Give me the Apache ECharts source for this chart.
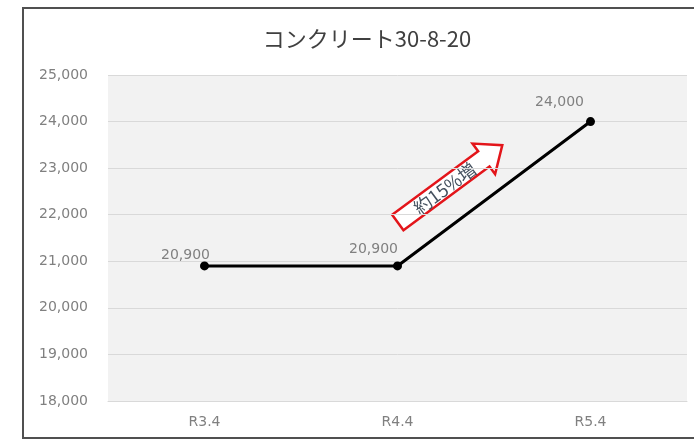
<!DOCTYPE html>
<html>
<head>
<meta charset="utf-8">
<script src="https://cdn.jsdelivr.net/npm/echarts@6/dist/echarts.min.js"></script>
<style>
html,body{margin:0;padding:0;background:#fff;}
#chart{width:694px;height:440px;}
</style>
</head>
<body>
<div id="chart"></div>
<script>
const titleText = 'コンクリート30-8-20';
const categories = ['R3.4', 'R4.4', 'R5.4'];
const values = [20900, 20900, 24000];
const yMin = 18000, yMax = 25000, yInterval = 1000;
const annotationText = '約15%増';

const labelOffsets = [[-19, 6], [-24, 0], [-31, -3]];
const fmt = v => v.toLocaleString('en-US');

const chart = echarts.init(document.getElementById('chart'), null, {renderer: 'canvas'});
const labelFont = {fontFamily: 'DejaVu Sans', fontSize: 14, color: '#808080'};

chart.setOption({
  animation: false,
  backgroundColor: '#ffffff',
  title: {
    text: titleText,
    left: 362, top: 23, textAlign: 'center',
    textStyle: {fontFamily: 'Noto Sans CJK JP', fontSize: 22, fontWeight: 'normal', color: '#404040'}
  },
  grid: {left: 108, right: 7, top: 75, bottom: 39, show: true, backgroundColor: '#f2f2f2', borderWidth: 0},
  xAxis: {
    type: 'category', data: categories, boundaryGap: true,
    axisLine: {show: true, lineStyle: {color: '#d9d9d9', width: 1}},
    axisTick: {show: false},
    axisLabel: Object.assign({margin: 14}, labelFont)
  },
  yAxis: {
    type: 'value', min: yMin, max: yMax, interval: yInterval,
    axisLine: {show: false}, axisTick: {show: false},
    splitLine: {lineStyle: {color: '#d9d9d9', width: 1}},
    axisLabel: Object.assign({margin: 20, formatter: v => fmt(v)}, labelFont)
  },
  series: [{
    type: 'line',
    data: values.map((v, i) => ({value: v, label: {offset: labelOffsets[i]}})),
    lineStyle: {color: '#000', width: 3},
    itemStyle: {color: '#000'},
    symbol: 'circle', symbolSize: 9,
    label: Object.assign({show: true, position: 'top', formatter: p => fmt(p.value)}, labelFont)
  }],
  graphic: [
    {
      type: 'rect', silent: true,
      shape: {x: 23, y: 8, width: 700, height: 430},
      style: {fill: 'none', stroke: '#505050', lineWidth: 2}
    },
    {
      type: 'group', x: 397.8, y: 222.5, rotation: 36.5 * Math.PI / 180, z: 100,
      children: [
        {
          type: 'polygon',
          shape: {points: [[0,-9.5],[107,-9.5],[107,-19],[130,0],[107,19],[107,9.5],[0,9.5]]},
          style: {fill: '#ffffff', stroke: '#e3151a', lineWidth: 2.5}
        },
        {
          type: 'text', x: 58, y: 0.5,
          style: {text: annotationText, fontFamily: 'Noto Sans CJK JP', fontSize: 18, fill: '#44505e', align: 'center', verticalAlign: 'middle'}
        }
      ]
    }
  ]
});
</script>
</body>
</html>
